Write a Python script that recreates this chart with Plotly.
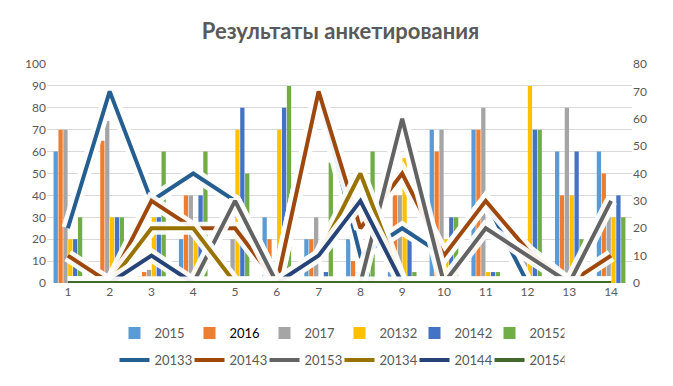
import plotly.graph_objects as go

categories = [str(i) for i in range(1, 15)]

# Bar series (left axis, 0-100)
s2015 = [60, 0, 3, 20, 0, 30, 20, 20, 5, 70, 70, 0, 60, 60]
s2016 = [70, 65, 5, 40, 0, 20, 20, 10, 40, 60, 70, 0, 40, 50]
s2017 = [70, 74, 6, 40, 20, 0, 30, 5, 40, 70, 80, 20, 80, 30]
s20132 = [20, 30, 30, 20, 70, 70, 0, 5, 57, 20, 5, 90, 40, 30]
s20142 = [20, 30, 30, 40, 80, 80, 5, 5, 20, 30, 5, 70, 60, 40]
s20152 = [30, 30, 60, 60, 50, 90, 55, 60, 5, 30, 5, 70, 20, 30]

# Line series (right axis, 0-80)
s20133 = [20, 70, 30, 40, 30, 0, 70, 10, 20, 10, 30, 0, 0, 0]
s20143 = [10, 0, 30, 20, 20, 0, 70, 20, 40, 10, 30, 12, 0, 10]
s20153 = [0, 0, 0, 0, 30, 0, 0, 0, 60, 0, 20, 10, 0, 30]
s20134 = [0, 0, 20, 20, 0, 0, 10, 40, 0, 0, 0, 0, 0, 0]
s20144 = [0, 0, 10, 0, 0, 0, 10, 30, 0, 0, 0, 0, 0, 0]
s20154 = [0, 0, 0, 0, 0, 0, 0, 0, 0, 0, 0, 0, 0, 0]

bar_names = ["2015", "2016", "2017", "20132", "20142", "20152"]
bar_data = [s2015, s2016, s2017, s20132, s20142, s20152]
bar_colors = ["#5b9bd5", "#ed7d31", "#a5a5a5", "#ffc000", "#4472c4", "#70ad47"]

line_names = ["20133", "20143", "20153", "20134", "20144", "20154"]
line_data = [s20133, s20143, s20153, s20134, s20144, s20154]
line_colors = ["#255e91", "#9e480e", "#636363", "#997300", "#264478", "#43682b"]

FONT = "Lato, Carlito, 'Open Sans', sans-serif"
GREY = "#595959"

# page body has an 8px margin: figure is drawn from (8, 8)
OFF = 8
W, H = 673 - OFF, 386 - OFF
PLOT_TOP, PLOT_BOTTOM = 64, 284
PLOT_H = PLOT_BOTTOM - PLOT_TOP

fig = go.Figure()

for name, data, color in zip(bar_names, bar_data, bar_colors):
    label = "<span style='color:#000000'>2016</span>" if name == "2016" else name
    fig.add_trace(go.Bar(
        x=categories, y=data, name=label, marker_color=color,
        marker_line_width=0, yaxis="y", legend="legend",
    ))

for name, data, color in zip(line_names, line_data, line_colors):
    # white glow behind each line
    fig.add_trace(go.Scatter(
        x=categories, y=data, mode="lines", yaxis="y2",
        line=dict(color="rgba(255,255,255,0.92)", width=13),
        showlegend=False, hoverinfo="skip",
    ))
    fig.add_trace(go.Scatter(
        x=categories, y=data, mode="lines", name=name, yaxis="y2",
        line=dict(color=color, width=4), legend="legend2",
    ))

fig.update_layout(
    width=W, height=H,
    margin=dict(l=47 - OFF, r=673 - 632, t=PLOT_TOP - OFF, b=386 - PLOT_BOTTOM),
    paper_bgcolor="white", plot_bgcolor="white",
    font=dict(family=FONT, size=12, color=GREY),
    title=dict(text="<b>Результаты анкетирования</b>", x=0.5, xanchor="center",
               y=1 - (31 - OFF) / H, yanchor="middle",
               font=dict(family=FONT, size=22, color=GREY)),
    barmode="group", bargap=0.3, bargroupgap=0.12,
    xaxis=dict(type="category", range=[-0.5, 13.5], showgrid=False,
               showline=False, ticks="", tickfont=dict(size=12, color=GREY)),
    yaxis=dict(range=[0, 100], dtick=10, showgrid=True, gridcolor="#d9d9d9",
               gridwidth=1, zeroline=False, showline=False, ticks="",
               tickfont=dict(size=12, color=GREY)),
    yaxis2=dict(range=[0, 80], dtick=10, overlaying="y", side="right",
                showgrid=False, zeroline=False, showline=False, ticks="",
                tickfont=dict(size=12, color=GREY)),
    legend=dict(orientation="h", x=0.5, xanchor="center",
                y=1 - (333 - PLOT_TOP) / PLOT_H, yanchor="middle",
                entrywidth=30, entrywidthmode="pixels",
                font=dict(size=13, color=GREY), bgcolor="rgba(0,0,0,0)"),
    legend2=dict(orientation="h", x=0.5, xanchor="center",
                 y=1 - (360 - PLOT_TOP) / PLOT_H, yanchor="middle",
                 entrywidth=30, entrywidthmode="pixels",
                 font=dict(size=13, color=GREY), bgcolor="rgba(0,0,0,0)"),
)

fig.write_html("out.html")
